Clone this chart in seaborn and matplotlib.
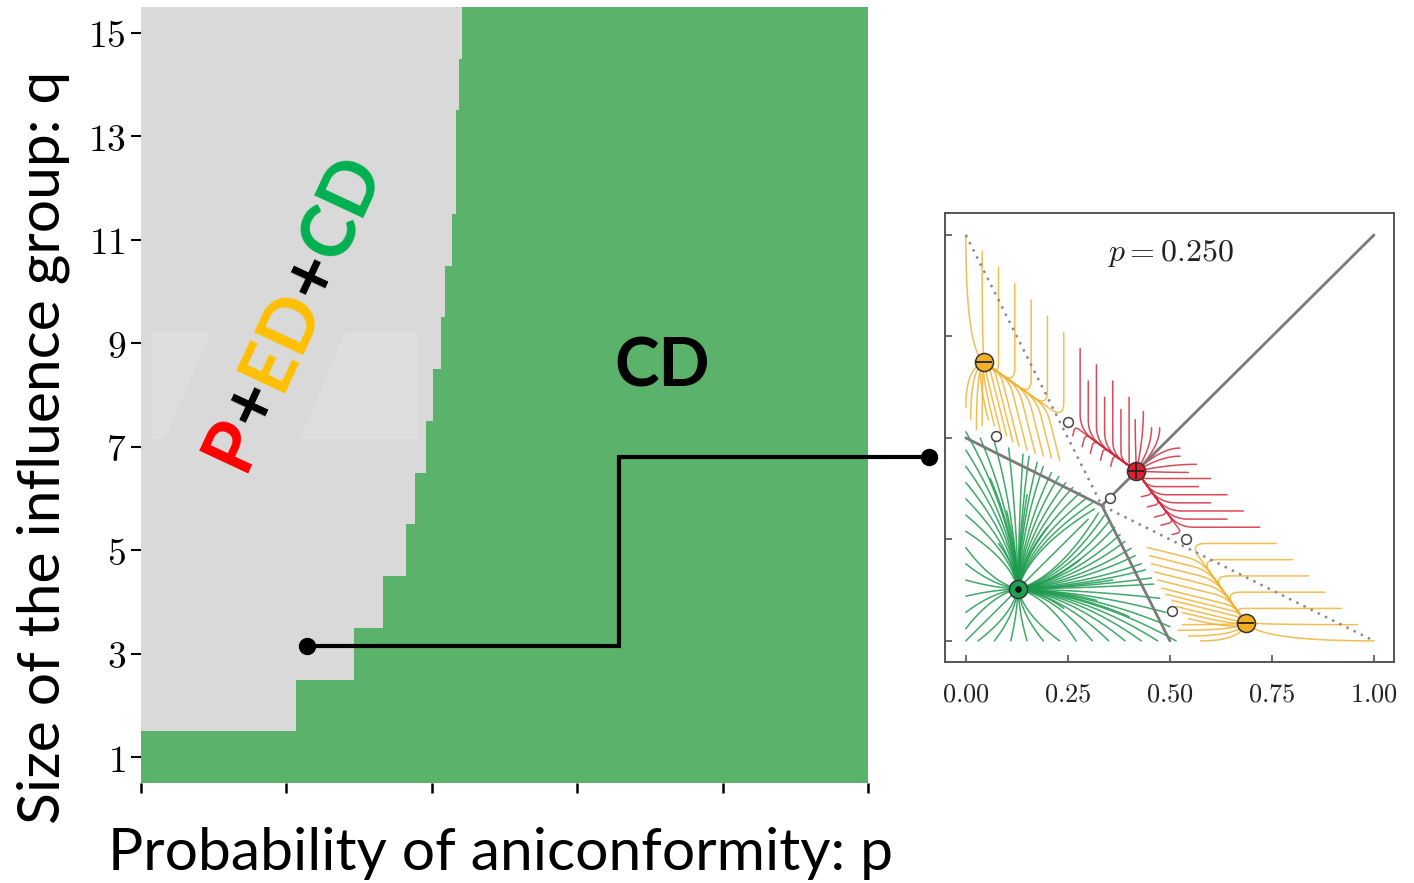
import numpy as np
import pandas as pd
import matplotlib
matplotlib.use("Agg")
import matplotlib.pyplot as plt
import seaborn as sns
from matplotlib.colors import ListedColormap
from matplotlib.lines import Line2D
from matplotlib.patches import Polygon

# ---------------- data: phase diagram ----------------
q_values = list(range(1, 16))
p_threshold = [0.0, 0.1065, 0.1465, 0.1665, 0.1820, 0.1885, 0.1960, 0.2010,
               0.2060, 0.2090, 0.2140, 0.2165, 0.2165, 0.2190, 0.2210]
p_max = 0.5
p_step = 0.0005
p_ticks = [0.0, 0.1, 0.2, 0.3, 0.4, 0.5]
q_ticks = [1, 3, 5, 7, 9, 11, 13, 15]

region_labels = ["P", "+", "ED", "+", "CD"]
region_colors = ["#ff0000", "#000000", "#ffc000", "#000000", "#00b050"]
cd_label = "CD"
x_label = "Probability of aniconformity: p"
y_label = "Size of the influence group: q"

# ---------------- data: inset phase portrait ----------------
inset_title = r"$p = 0.250$"
inset_ticks = [0.0, 0.25, 0.5, 0.75, 1.0]
inset_ticklabels = ["0.00", "0.25", "0.50", "0.75", "1.00"]
stable_green = (0.128, 0.128)
stable_red = (0.418, 0.418)
stable_orange_x = [0.045, 0.686]
stable_orange_y = [0.686, 0.045]
saddle_x = [0.073, 0.505, 0.251, 0.540, 0.353]
saddle_y = [0.505, 0.073, 0.540, 0.251, 0.353]
separatrix_x = [0.0, 1 / 3, 0.5]
separatrix_y = [0.5, 1 / 3, 0.0]
diagonal_x = [1 / 3, 1.0]
diagonal_y = [1 / 3, 1.0]
dotted_x = [0.0, 1 / 3, 1.0]
dotted_y = [1.0, 1 / 3, 0.0]

orange_top_starts = [(0.00, 1.00), (0.04, 0.96), (0.08, 0.92), (0.12, 0.88),
                     (0.16, 0.84), (0.20, 0.80), (0.24, 0.76)]
orange_low_starts = [(0.000, 0.575), (0.012, 0.545), (0.026, 0.520), (0.040, 0.530),
                     (0.055, 0.545), (0.070, 0.530), (0.085, 0.515), (0.100, 0.505),
                     (0.115, 0.490), (0.130, 0.480), (0.150, 0.470), (0.170, 0.462),
                     (0.190, 0.455), (0.210, 0.450), (0.230, 0.445)]
red_top_starts = [(0.28, 0.72), (0.30, 0.64), (0.32, 0.68), (0.34, 0.60), (0.36, 0.64),
                  (0.38, 0.57), (0.40, 0.60), (0.415, 0.545), (0.435, 0.565),
                  (0.455, 0.525), (0.475, 0.525)]
red_low_starts = [(0.262, 0.505), (0.285, 0.478), (0.305, 0.462), (0.330, 0.445),
                  (0.355, 0.430)]
green_starts = [(0.00, 0.00), (0.03, 0.0), (0.07, 0.0), (0.11, 0.0), (0.15, 0.0),
                (0.19, 0.0), (0.23, 0.0), (0.27, 0.0), (0.31, 0.0), (0.35, 0.0),
                (0.39, 0.0), (0.43, 0.0), (0.47, 0.0), (0.515, 0.0),
                (0.50, 0.035), (0.49, 0.07), (0.475, 0.105), (0.46, 0.14),
                (0.44, 0.175), (0.415, 0.21), (0.39, 0.245), (0.365, 0.28),
                (0.34, 0.31), (0.30, 0.30), (0.28, 0.20), (0.24, 0.08),
                (0.455, 0.155), (0.43, 0.19), (0.405, 0.228), (0.378, 0.262),
                (0.352, 0.296), (0.325, 0.315), (0.36, 0.15), (0.32, 0.10),
                (0.40, 0.06)]

# ---------------- styling ----------------
GREY = "#d9d9d9"
GREEN = "#5bb36b"
ORANGE_LINE = "#f2b233"
RED_LINE = "#d42b3c"
GREEN_LINE = "#1c9a4e"

sns.set_theme(style="white")
plt.rcParams["font.family"] = ["Lato", "DejaVu Sans"]
plt.rcParams["mathtext.fontset"] = "cm"

W, H = 1414, 883
fig = plt.figure(figsize=(W / 100, H / 100), dpi=100)
fig.patch.set_facecolor("white")
renderer = fig.canvas.get_renderer()


def fx(x):
    return x / W


def fy(y):
    return 1 - y / H


def text_width(s, size, weight="normal"):
    t = fig.text(0, 0, s, fontsize=size, weight=weight)
    w = t.get_window_extent(renderer).width
    t.remove()
    return w


def fit_size(s, target_px, weight="normal"):
    return 20 * target_px / text_width(s, 20, weight)


# ---------------- main phase diagram ----------------
ax = fig.add_axes([fx(141), fy(783), (868 - 141) / W, (783 - 7) / H])
p_grid = np.round(np.arange(0, p_max, p_step) + p_step / 2, 6)
mat = np.array([[1 if p >= thr else 0 for p in p_grid] for thr in p_threshold[::-1]])
df = pd.DataFrame(mat, index=q_values[::-1], columns=p_grid)
sns.heatmap(df, cmap=ListedColormap([GREY, GREEN]), vmin=0, vmax=1, cbar=False,
            ax=ax, xticklabels=False, yticklabels=False)
ax.set_xticks([v / p_step for v in p_ticks])
ax.set_xticklabels([])
ax.set_yticks([len(q_values) - q + 0.5 for q in q_ticks])
ax.set_yticklabels([f"${q}$" for q in q_ticks], fontsize=27, rotation=0, color="black")
ax.tick_params(axis="x", bottom=True, length=7, width=1.8, color="black")
ax.tick_params(axis="y", left=True, length=7, width=1.5, color="black", pad=4)
ax.set_xlabel("")
ax.set_ylabel("")
for sp in ax.spines.values():
    sp.set_visible(False)

# light boxes behind the rotated label
for poly in ([(152, 332), (211, 332), (165, 439), (152, 439)],
             [(345, 332), (418, 332), (418, 439), (300, 439)]):
    fig.add_artist(Polygon([(fx(a), fy(b)) for a, b in poly], closed=True,
                           fc="#dedede", ec="none", zorder=1.5,
                           transform=fig.transFigure))

# rotated multi-colour label
seg_size = fit_size("".join(region_labels), 335, "bold")
widths = [text_width(s, seg_size, "bold") for s in region_labels]
total = sum(widths)
theta = np.deg2rad(65)
bvec = np.array([np.cos(theta), np.sin(theta)])
uvec = np.array([-np.sin(theta), np.cos(theta)])
cap = 0.7165 * seg_size * 100 / 72
center = np.array([289.5, H - 310.0]) - uvec * cap / 2
cum = 0.0
for s, w, c in zip(region_labels, widths, region_colors):
    pos = center + bvec * (cum + w / 2 - total / 2)
    fig.text(pos[0] / W, pos[1] / H, s, rotation=65, rotation_mode="anchor",
             ha="center", va="baseline", fontsize=seg_size, weight="bold",
             color=c, zorder=3)
    cum += w

cd_size = fit_size(cd_label, 96, "bold")
fig.text(fx(662.5), fy(386), cd_label, ha="center", va="baseline",
         fontsize=cd_size, weight="bold", color="black", zorder=3)

xl_size = fit_size(x_label, 786)
fig.text(fx(500), fy(870), x_label, ha="center", va="baseline", fontsize=xl_size,
         color="black")
yl_size = fit_size(y_label, 755)
fig.text(fx(60), fy(447.5), y_label, ha="center", va="baseline", rotation=90,
         rotation_mode="anchor", fontsize=yl_size, color="black")

# connector
fig.add_artist(Line2D([fx(307), fx(619), fx(619), fx(929)],
                      [fy(646), fy(646), fy(457), fy(457)], lw=3, color="black",
                      solid_joinstyle="miter", transform=fig.transFigure, zorder=2))
fig.add_artist(Line2D([fx(307), fx(929)], [fy(646), fy(457)], ls="", marker="o",
                      ms=11.5, color="black", transform=fig.transFigure, zorder=2))

# ---------------- inset ----------------
ax2 = fig.add_axes([fx(945), fy(662), 449 / W, 449 / H])
ax2.set_facecolor("white")
ax2.set_xlim(-0.051, 1.049)
ax2.set_ylim(-0.052, 1.054)
for sp in ax2.spines.values():
    sp.set_color("#555555")
    sp.set_linewidth(1.4)
ax2.set_xticks(inset_ticks)
ax2.set_xticklabels([f"${t}$" for t in inset_ticklabels], fontsize=19, color="#222222")
ax2.set_yticks(inset_ticks)
ax2.set_yticklabels([])
ax2.tick_params(axis="both", direction="in", length=5, width=1.2, color="#555555",
                bottom=True, left=True)
ax2.tick_params(axis="x", pad=14)


def bezier(p0, c, p1, n=24):
    t = np.linspace(0, 1, n)[:, None]
    return (1 - t) ** 2 * p0 + 2 * (1 - t) * t * c + t ** 2 * p1


def trajectory(S, d, A, B, bend=0.9):
    S = np.asarray(S, float)
    d = np.asarray(d, float)
    d = d / np.linalg.norm(d)
    A = np.asarray(A, float)
    B = np.asarray(B, float)
    M = np.column_stack([d, A - B])
    t, s = np.linalg.solve(M, A - S)
    if t > 0 and 0 <= s < 0.97:
        K = S + t * d
        e = B - K
        L = np.linalg.norm(e)
        e = e / L
        r = min(0.04, 0.45 * t, 0.45 * L)
        corner = bezier(K - r * d, K, K + r * e, 12)
        return np.vstack([S[None, :], corner, B[None, :]])
    tc = max(np.dot(B - S, d), 0)
    C = S + bend * tc * d
    return bezier(S, C, B, 30)


def swap(p):
    return (p[1], p[0])


def draw(path, color, lw=1.1, alpha=0.85):
    ax2.plot(path[:, 0], path[:, 1], color=color, lw=lw, alpha=alpha,
             solid_capstyle="round", zorder=2)


O1 = (stable_orange_x[0], stable_orange_y[0])
S1 = (saddle_x[2], saddle_y[2])
for S in orange_top_starts:
    draw(trajectory(S, (0, -1), S1, O1), ORANGE_LINE)
    draw(trajectory(swap(S), (-1, 0), swap(S1), swap(O1)), ORANGE_LINE)
for S in orange_low_starts:
    d = (0, 1) if S[0] < O1[0] else (-0.25, 1)
    draw(trajectory(S, d, S1, O1), ORANGE_LINE)
    draw(trajectory(swap(S), swap(d), swap(S1), swap(O1)), ORANGE_LINE)
for S in red_top_starts:
    draw(trajectory(S, (0, -1), S1, stable_red, bend=0.45), RED_LINE)
    draw(trajectory(swap(S), (-1, 0), swap(S1), stable_red, bend=0.45), RED_LINE)
for S in red_low_starts:
    draw(trajectory(S, (0.25, 1), S1, stable_red), RED_LINE)
    draw(trajectory(swap(S), (1, 0.25), swap(S1), stable_red), RED_LINE)


def green_path(S, G):
    S = np.asarray(S, float)
    G = np.asarray(G, float)
    dx, dy = S - G
    if abs(abs(dx) - abs(dy)) < 1e-9:
        C = (S + G) / 2
    elif abs(dx) > abs(dy):
        C = np.array([G[0] + 0.5 * dx, G[1] + 0.15 * dy])
    else:
        C = np.array([G[0] + 0.15 * dx, G[1] + 0.5 * dy])
    return bezier(S, C, G, 30)


for S in green_starts:
    draw(green_path(S, stable_green), GREEN_LINE)
    if S[0] != S[1]:
        draw(green_path(swap(S), stable_green), GREEN_LINE)

ax2.plot(separatrix_x, separatrix_y, color="#7a7a7a", lw=2.0, zorder=3)
ax2.plot(diagonal_x, diagonal_y, color="#7a7a7a", lw=2.0, zorder=3)
ax2.plot(dotted_x, dotted_y, color="#8a8a8a", lw=1.8, ls=(0, (1, 2.2)), zorder=3)

sns.scatterplot(x=saddle_x, y=saddle_y, ax=ax2, s=50, color="white",
                edgecolor="#444444", linewidth=1.1, zorder=5)
ax2.plot(stable_orange_x, stable_orange_y, "o", ms=13, mfc="#f4b025", mec="#333333",
         mew=1.1, zorder=6)
ax2.plot(stable_orange_x, stable_orange_y, "_", ms=11, mec="#222222", mew=1.3, zorder=7)
ax2.plot([stable_red[0]], [stable_red[1]], "o", ms=13, mfc="#e02030", mec="#333333",
         mew=1.1, zorder=6)
ax2.plot([stable_red[0]], [stable_red[1]], "+", ms=12, mec="#222222", mew=1.3, zorder=7)
ax2.plot([stable_green[0]], [stable_green[1]], "o", ms=13, mfc="#1fa055", mec="#333333",
         mew=1.1, zorder=6)
ax2.plot([stable_green[0]], [stable_green[1]], "o", ms=3.8, mfc="#111111", mec="#111111",
         zorder=7)
ax2.text(0.5, 0.956, inset_title, ha="center", va="center", fontsize=23,
         color="#222222", zorder=8)
ax2.set_xlabel("")
ax2.set_ylabel("")

fig.savefig("out.png", dpi=100, facecolor="white")
